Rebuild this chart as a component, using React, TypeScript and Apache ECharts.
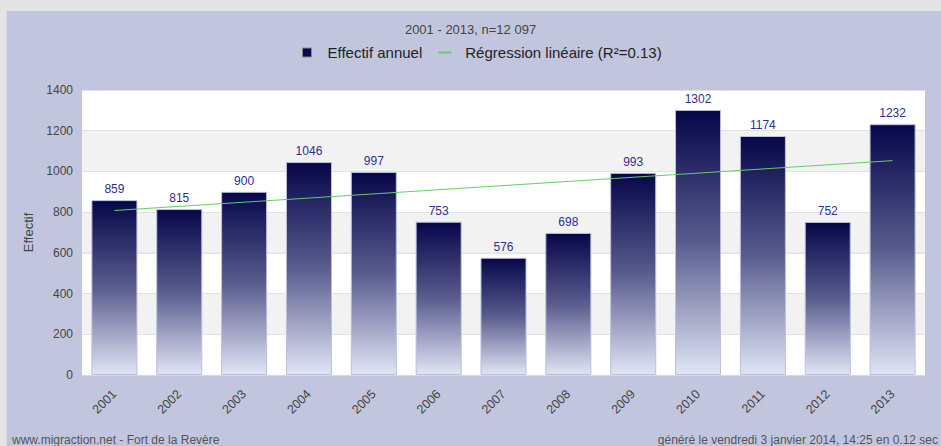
import React, { useEffect, useRef } from "react";
import * as echarts from "echarts";

const years = ["2001", "2002", "2003", "2004", "2005", "2006", "2007", "2008", "2009", "2010", "2011", "2012", "2013"];
const effectif = [859, 815, 900, 1046, 997, 753, 576, 698, 993, 1302, 1174, 752, 1232];
// regression line end points
const regression: [string, number][] = [["2001", 808], ["2013", 1053]];
const yTicks = { min: 0, max: 1400, interval: 200 };
const titleText = "2001 - 2013, n=12 097";
const seriesNames = ["Effectif annuel", "Régression linéaire (R²=0.13)"];
const footerLeft = "www.migraction.net - Fort de la Revère";
const footerRight = "généré le vendredi 3 janvier 2014, 14:25 en 0.12 sec";

const FONT = "Liberation Sans, Arial, sans-serif";

export default function App() {
  const ref = useRef<HTMLDivElement>(null);
  useEffect(() => {
    document.body.style.margin = "0";
    const chart = echarts.init(ref.current!, undefined, { renderer: "svg" });
    chart.setOption({
      animation: false,
      backgroundColor: "transparent",
      textStyle: { fontFamily: FONT },
      title: {
        text: titleText,
        left: "center",
        top: 18,
        textStyle: { fontSize: 13, fontWeight: "normal", color: "#444", fontFamily: FONT },
      },
      legend: {
        top: 40,
        left: 297,
        itemGap: 16,
        itemWidth: 13,
        itemHeight: 9,
        textStyle: { fontSize: 15, color: "#222", fontFamily: FONT, padding: [0, 0, 0, 9] },
        data: [
          { name: seriesNames[0], icon: "path://M0,0 L8,0 L8,8 L0,8 Z", itemStyle: { color: "#0a0a50", borderColor: "#888", borderWidth: 1 } },
          { name: seriesNames[1], icon: "path://M0,0 L13,0 L13,2 L0,2 Z", itemStyle: { color: "#66cc66" } },
        ],
      },
      grid: { left: 82, right: 16, top: 90, bottom: 71, containLabel: false },
      xAxis: {
        type: "category",
        data: years,
        axisTick: { show: false },
        axisLine: { show: true, lineStyle: { color: "#d8d8e0" } },
        axisLabel: { rotate: 45, color: "#444", fontSize: 12.5, margin: 17, fontFamily: FONT },
      },
      yAxis: {
        type: "value",
        min: yTicks.min,
        max: yTicks.max,
        interval: yTicks.interval,
        name: "Effectif",
        nameLocation: "middle",
        nameRotate: 90,
        nameGap: 47,
        nameTextStyle: { color: "#444", fontSize: 13, fontFamily: FONT },
        axisLine: { show: false },
        axisTick: { show: false },
        axisLabel: { color: "#444", fontSize: 12, margin: 9, fontFamily: FONT, formatter: (v: number) => String(v) },
        splitLine: { show: true, lineStyle: { color: "#e2e2e2", width: 1 } },
        splitArea: { show: true, areaStyle: { color: ["#ffffff", "#f2f2f2"] } },
      },
      series: [
        {
          name: seriesNames[0],
          type: "bar",
          data: effectif,
          barCategoryGap: "29%",
          itemStyle: {
            color: new echarts.graphic.LinearGradient(0, 0, 0, 1, [
              { offset: 0, color: "#06064a" },
              { offset: 0.5, color: "#5a5c8e" },
              { offset: 1, color: "#e0e5f5" },
            ]),
            borderColor: "#b9c0da",
            borderWidth: 1,
          },
          label: { show: true, position: "top", distance: 5, color: "#2f2f8f", fontSize: 12, fontFamily: FONT },
        },
        {
          name: seriesNames[1],
          type: "line",
          data: regression,
          showSymbol: false,
          symbol: "none",
          lineStyle: { color: "#66cc66", width: 1 },
          itemStyle: { color: "#66cc66" },
          z: 5,
        },
      ],
      graphic: [
        { type: "text", left: 12, top: 434, style: { text: footerLeft, fontSize: 12, fill: "#555", fontFamily: FONT } },
        { type: "text", right: 3, top: 434, style: { text: footerRight, fontSize: 12, fill: "#555", fontFamily: FONT } },
      ],
    });
    return () => chart.dispose();
  }, []);
  return (
    <div style={{ position: "absolute", left: 0, top: 0, width: 941, height: 446, background: "#e4e4e4", overflow: "hidden" }}>
      <div style={{ position: "absolute", left: 6, top: 11, width: 935, height: 435, background: "#c1c6de", borderLeft: "1px solid #d6dbec", boxSizing: "border-box" }} />
      <div ref={ref} style={{ position: "absolute", left: 0, top: 0, width: 941, height: 446 }} />
    </div>
  );
}
